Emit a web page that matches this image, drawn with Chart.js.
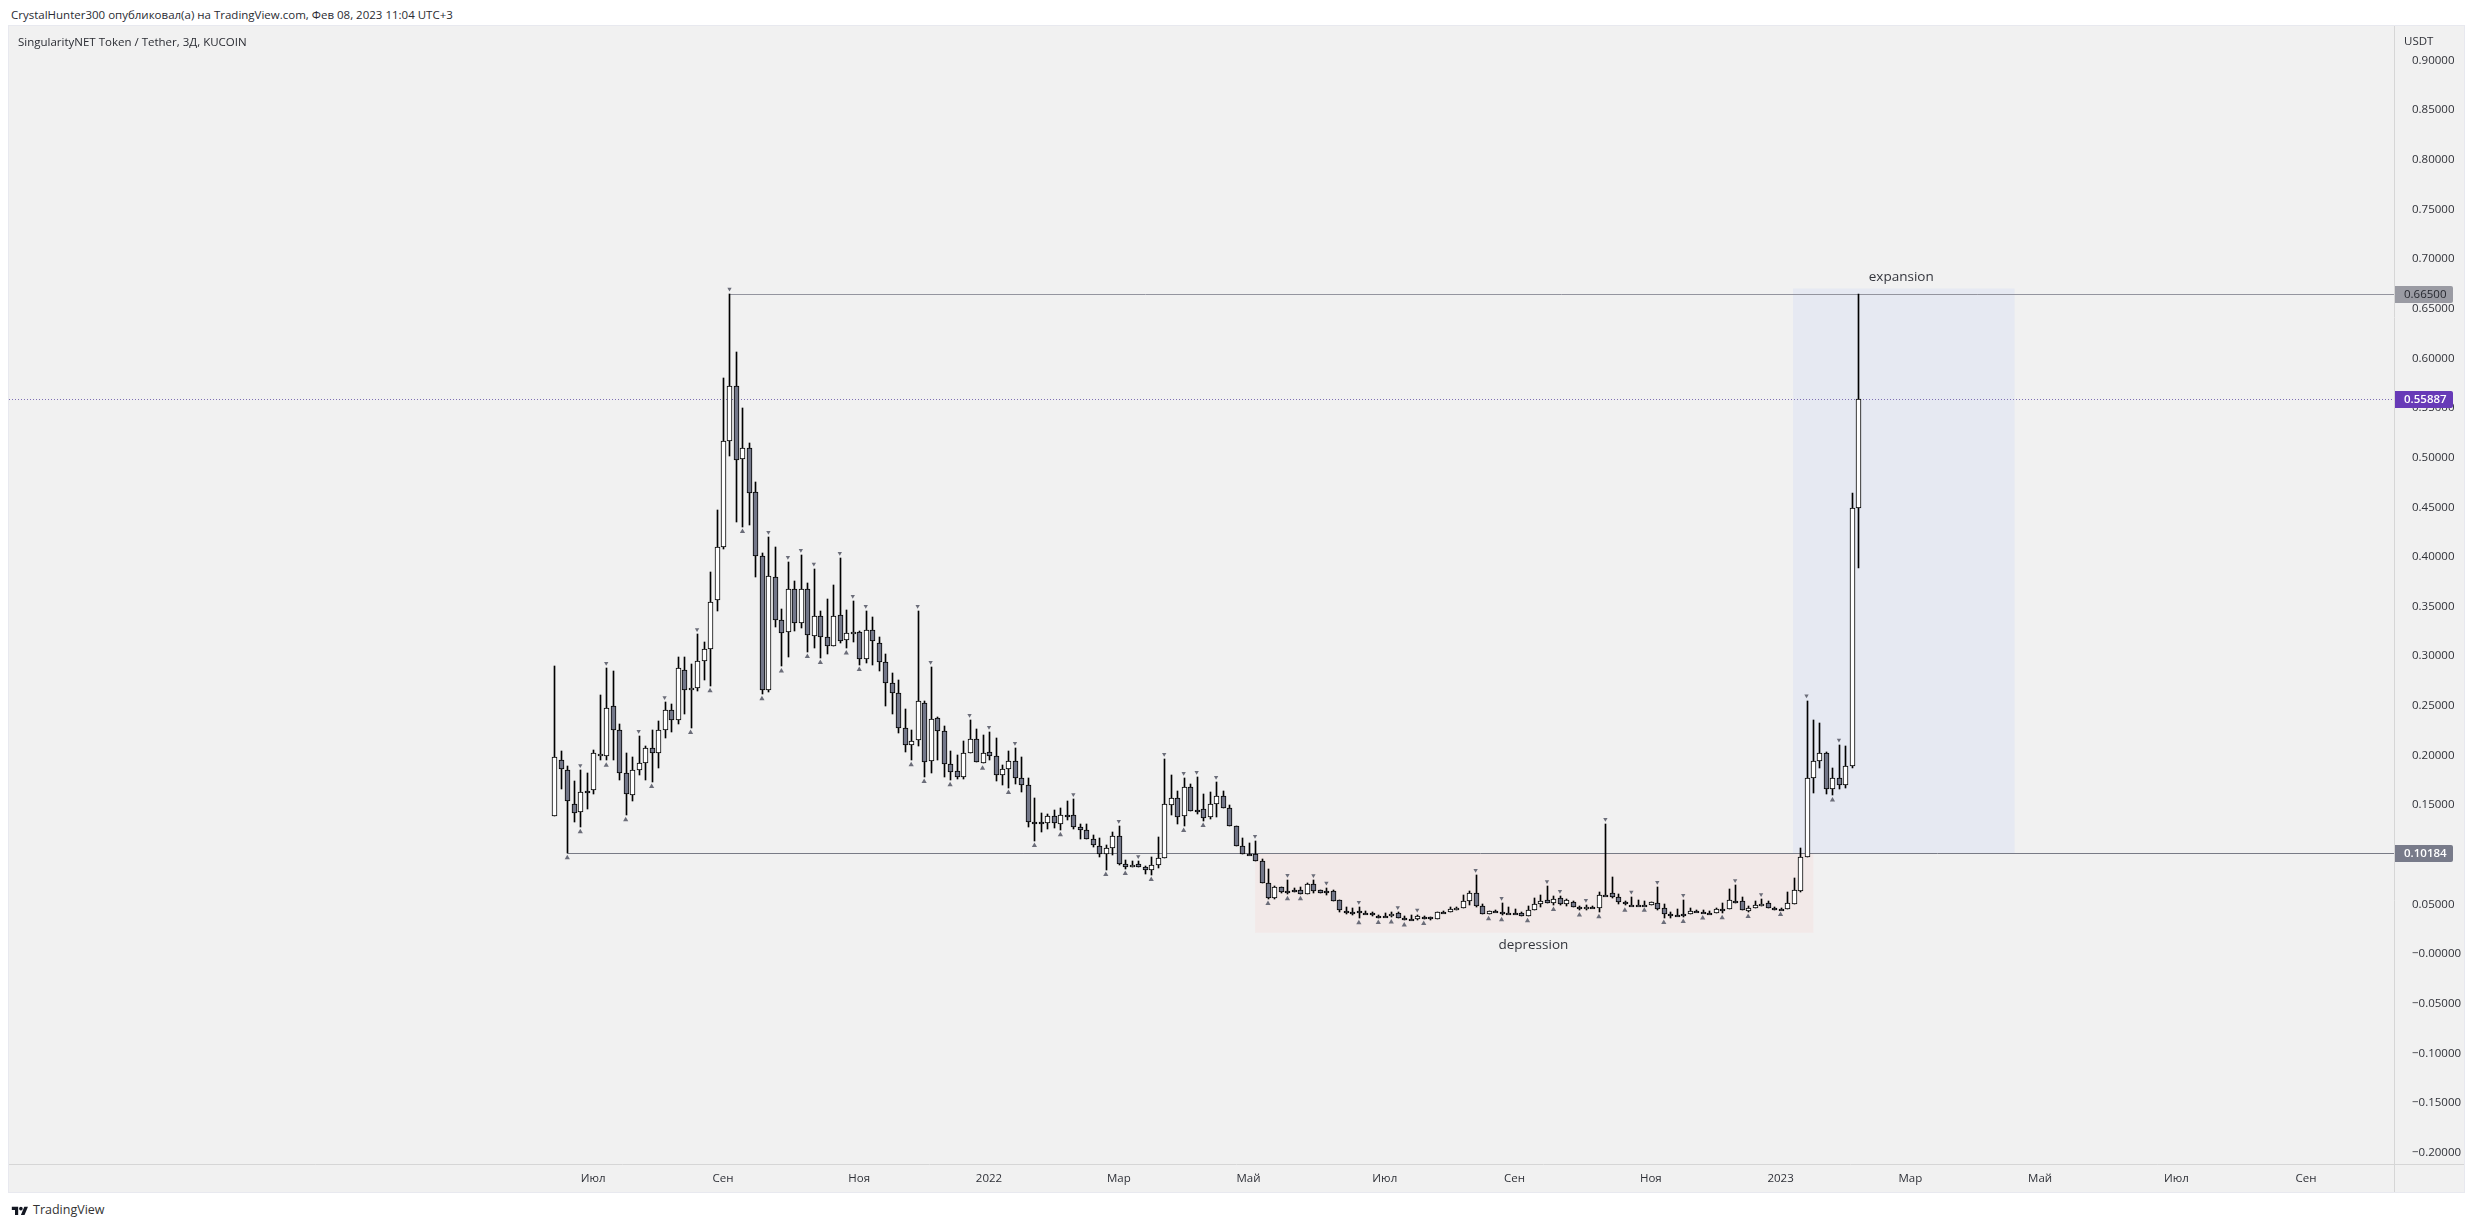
<!DOCTYPE html>
<html>
<head>
<meta charset="utf-8">
<title>SingularityNET Token / Tether</title>
<script src="https://cdn.jsdelivr.net/npm/chart.js@4/dist/chart.umd.js"></script>
<style>
    html, body { margin: 0; padding: 0; background: #fff; overflow: hidden; }
    body { width: 2474px; height: 1227px; position: relative; font-family: "Open Sans", sans-serif; color: #2a2c33; }
    #pane { position: absolute; left: 8px; top: 25px; width: 2455px; height: 1166px; border: 1px solid #e8e9ef; background: #f1f1f1; }
    canvas { display: block; }
    .caption { position: absolute; white-space: nowrap; font-size: 11.5px; line-height: 14px; }
    #published { left: 11px; top: 8px; }
    #symbol { left: 18px; top: 35px; }
    #brand { left: 33px; top: 1203px; font-size: 12.5px; color: #333; }
    #usdt { left: 2404px; top: 34px; color: #2f3138; }
    #logo { position: absolute; left: 10px; top: 1205px; width: 20px; height: 10px; }
</style>
</head>
<body>
<div class="caption" id="published">CrystalHunter300 опубликовал(а) на TradingView.com, Фев 08, 2023 11:04 UTC+3</div>
<div id="pane"><canvas id="chart" width="2455" height="1166"></canvas></div>
<div class="caption" id="symbol">SingularityNET Token / Tether, 3Д, KUCOIN</div>
<div class="caption" id="usdt">USDT</div>
<svg id="logo" viewBox="0 0 36 22"><path fill="#131722" d="M14 22H7V11H0V4h14v18zM28 22h-8l7.5-18h8L28 22z"/><circle fill="#131722" cx="20" cy="8" r="4"/></svg>
<div class="caption" id="brand">TradingView</div>
<script>
// 3D candles
const opens = [
    .139, .195, .185, .151, .143, .164, .165, .2005, .199, .2495,
    .226, .182, .160, .185, .192, .208, .203, .2254, .2455, .2354,
    .286, .2656, .2677, .295, .307, .357, .4097, .5165, .572, .4984,
    .5094, .465, .4006, .2656, .3795, .336, .324, .3674, .333, .3674,
    .320, .340, .319, .310, .342, .316, .322, .324, .297, .326,
    .313, .294, .2727, .2626, .2274, .2102, .2153, .2525, .194, .2374,
    .2243, .191, .184, .1787, .202, .2163, .192, .2032, .199, .180,
    .186, .194, .177, .170, .1327, .1325, .1316, .1387, .1306, .1397,
    .1397, .1283, .1246, .1155, .1085, .1004, .1064, .1185, .0903, .0873,
    .0903, .0873, .0843, .0893, .0964, .1498, .1568, .1387, .1679, .145,
    .1457, .1377, .1508, .1588, .1467, .1286, .1085, .1004, .1004, .0934,
    .0712, .0567, .0678, .0632, .0641, .0642, .0608, .0702, .0642, .0632,
    .0632, .054, .0438, .0428, .043, .0415, .041, .0385, .0385, .0383,
    .041, .0365, .0355, .035, .0376, .037, .035, .0428, .0426, .044,
    .0467, .053, .0611, .048, .0406, .0438, .0425, .0418, .0418, .041,
    .0386, .0446, .0507, .054, .0517, .056, .05, .0527, .0473, .045,
    .0469, .046, .0596, .0611, .0571, .0521, .0496, .0496, .0496, .049,
    .0517, .046, .0406, .0395, .0405, .0406, .0438, .0425, .0415, .0416,
    .0455, .0456, .0539, .053, .0436, .046, .0487, .051, .0467, .0458,
    .0456, .0507, .0638, .0974, .1771, .1944, .2022, .166, .1771, .1701,
    .1891, .4488
];
const highs = [
    .290, .2045, .189, .174, .185, .182, .206, .261, .288, .285,
    .232, .2025, .198, .2196, .2095, .2257, .2344, .2535, .252, .299,
    .299, .292, .322, .314, .3845, .447, .580, .665, .606, .550,
    .5148, .4755, .404, .420, .410, .348, .395, .3755, .402, .3734,
    .388, .346, .358, .3717, .399, .3466, .3556, .325, .3455, .3395,
    .319, .302, .2828, .2757, .2468, .2253, .3455, .2545, .2891, .2384,
    .2293, .2045, .2005, .2146, .2357, .2263, .2206, .2236, .2176, .1904,
    .2045, .2075, .1985, .1773, .157, .1417, .141, .145, .1467, .154,
    .156, .1306, .1306, .1195, .1169, .1095, .1226, .129, .0944, .0934,
    .0934, .0883, .0974, .1175, .1964, .180, .1639, .1773, .171, .1783,
    .1608, .1632, .1733, .1639, .1498, .1286, .1169, .1118, .1138, .0954,
    .0856, .0688, .0678, .0745, .0662, .0678, .0712, .0742, .0648, .0668,
    .0642, .054, .047, .0463, .0473, .0436, .042, .0393, .041, .0426,
    .042, .0386, .039, .0396, .038, .0376, .0426, .0436, .0477, .0473,
    .0591, .0632, .0796, .0504, .0436, .0446, .0514, .0473, .045, .0426,
    .048, .0564, .0591, .0682, .058, .0584, .0554, .0537, .048, .0494,
    .0484, .0622, .131, .0776, .0604, .053, .0577, .054, .053, .0524,
    .0675, .05, .0423, .045, .0544, .046, .0446, .044, .043, .0467,
    .051, .0655, .0692, .0571, .0487, .0534, .0551, .053, .0477, .0467,
    .0625, .0763, .1068, .2553, .2359, .233, .2039, .187, .2108, .2096,
    .4644, .665
];
const lows = [
    .139, .1666, .10184, .133, .128, .146, .1615, .195, .195, .195,
    .1756, .140, .1545, .180, .175, .1736, .1877, .218, .224, .232,
    .242, .228, .265, .276, .270, .346, .4077, .502, .4355, .4305,
    .432, .380, .262, .264, .3298, .290, .2995, .3257, .3287, .3045,
    .3086, .2985, .3025, .310, .313, .308, .3146, .2915, .2935, .2915,
    .2855, .250, .242, .2223, .2038, .1954, .2099, .1787, .1827, .1958,
    .1787, .1753, .1766, .1766, .202, .193, .192, .1958, .1746, .1703,
    .1675, .1716, .1635, .128, .114, .1233, .1263, .127, .125, .135,
    .1263, .1158, .1155, .1075, .098, .085, .0997, .0893, .086, .0873,
    .0873, .081, .080, .0863, .0964, .1403, .1313, .1293, .1437, .1407,
    .1343, .1357, .1383, .1467, .1293, .1085, .1004, .0998, .0934, .0712,
    .0557, .0557, .0615, .0604, .0625, .0604, .0608, .0618, .0615, .0594,
    .0537, .042, .0406, .0396, .0363, .0403, .0383, .0366, .0373, .037,
    .0363, .034, .0346, .0346, .0356, .0346, .035, .0416, .042, .044,
    .0467, .0497, .0477, .0403, .0403, .0423, .0393, .0414, .0406, .0386,
    .0383, .0446, .0477, .0514, .0497, .0497, .0487, .047, .044, .0446,
    .046, .0423, .0591, .056, .0507, .049, .049, .049, .049, .049,
    .0446, .0366, .0366, .0386, .0376, .04, .0423, .041, .0406, .0416,
    .0413, .0456, .0517, .044, .0426, .046, .0487, .046, .0446, .0446,
    .0456, .0507, .0628, .0974, .1619, .187, .1607, .1599, .166, .1677,
    .1878, .3893
];
const closes = [
    .198, .186, .154, .142, .163, .163, .202, .2015, .2475, .226,
    .182, .161, .185, .192, .208, .203, .2254, .2455, .2354, .288,
    .2656, .2677, .295, .307, .355, .4097, .5165, .572, .4973, .5094,
    .464, .4006, .2656, .3805, .336, .323, .368, .333, .3674, .321,
    .340, .319, .310, .341, .315, .323, .324, .297, .326, .315,
    .294, .2727, .2626, .2274, .2102, .2142, .2545, .193, .2364, .2243,
    .191, .1837, .1787, .202, .2163, .193, .202, .199, .180, .186,
    .194, .177, .170, .1327, .1322, .1315, .1387, .1316, .1397, .1392,
    .1283, .1246, .1155, .1095, .1004, .1064, .1185, .0903, .0873, .0893,
    .0873, .0843, .0893, .0964, .1508, .1568, .1377, .1679, .1437, .1445,
    .1373, .1508, .1588, .1467, .1293, .1085, .1004, .0998, .0934, .0712,
    .0567, .0678, .0628, .0628, .0635, .0608, .0702, .0638, .0618, .0625,
    .0537, .044, .0434, .0424, .041, .0411, .039, .0381, .0381, .0406,
    .0366, .0361, .0351, .038, .036, .035, .042, .0424, .045, .0467,
    .053, .0611, .048, .0406, .0436, .0434, .0421, .0414, .0414, .0386,
    .044, .0507, .0537, .0517, .0557, .05, .054, .047, .045, .0473,
    .0465, .0591, .0592, .0571, .0521, .05, .0492, .0492, .0492, .0521,
    .0456, .0406, .0386, .0391, .0401, .043, .0434, .0421, .0411, .045,
    .0451, .054, .0535, .044, .046, .049, .0507, .0467, .045, .0454,
    .051, .0642, .0974, .1771, .1944, .2022, .166, .1771, .1701, .1891,
    .4488, .55887
];

// candle numbers that carry a fractal mark
const fractalHighs = [4, 8, 13, 17, 22, 27, 33, 36, 38, 40, 44, 46, 48, 56, 58, 64, 67, 71, 80, 87, 90, 94, 97, 99, 102, 108, 113, 117, 119, 124, 130, 133, 142, 146, 153, 155, 159, 162, 166, 170, 174, 182, 186, 193, 198];
const fractalLows = [2, 4, 8, 11, 15, 21, 24, 29, 32, 35, 39, 41, 45, 47, 55, 57, 61, 66, 70, 74, 78, 85, 88, 92, 97, 100, 110, 113, 115, 124, 127, 129, 131, 134, 144, 146, 150, 154, 158, 161, 165, 168, 171, 174, 177, 180, 184, 189, 197];

const viewX = [-84.05, 283.55];
const viewY = [-0.2115, 0.9348];
const priceTicks = [-0.2, -0.15, -0.1, -0.05, 0, 0.05, 0.15, 0.2, 0.25, 0.3, 0.35, 0.4, 0.45, 0.5, 0.55, 0.6, 0.65, 0.7, 0.75, 0.8, 0.85, 0.9];
const timeTicks = [6, 26, 47, 67, 87, 107, 128, 148, 169, 189, 209, 229, 250, 270];
const timeLabels = ["Июл", "Сен", "Ноя", "2022", "Мар", "Май", "Июл", "Сен", "Ноя", "2023", "Мар", "Май", "Июл", "Сен"];

const topLevel = 0.665;
const bottomLevel = 0.10184;
const lastPrice = 0.55887;
const depressionBox = { from: 108, to: 194.1, top: bottomLevel, bottom: 0.0215 };
const expansionBox = { from: 190.9, to: 225.1, top: 0.6703, bottom: bottomLevel };

const noteTexts = ["expansion", "depression"];
const noteBars = [207.6, 150.9];
const notePrices = [0.6815, 0.0094];

const tagPrices = [topLevel, lastPrice, bottomLevel];
const tagFills = ["#9a9ba3", "#673ab7", "#787b8a"];
const tagInks = ["#26282f", "#ffffff", "#ffffff"];

const UI_FONT = '"Open Sans", sans-serif';
const INK = "#2f3138";
const AXIS_LINE = "#d6d6d6";
const MARK_GAP = 0.0048;

const barNumbers = opens.map((_, i) => i);

function formatPrice(value) {
    const sign = value < 0.000001 ? "−" : "";
    return sign + Math.abs(value).toFixed(5);
}

// bars and levels land on whole pixels, like the original candles do
const snapToPixels = {
    id: "snapToPixels",
    afterDatasetsUpdate(chart) {
        chart.data.datasets.forEach((dataset, index) => {
            const elements = chart.getDatasetMeta(index).data;
            if (dataset.type === "bar") {
                elements.forEach(bar => {
                    bar.x = Math.round(bar.x) + 0.5;
                    bar.y = Math.round(bar.y);
                    bar.base = Math.round(bar.base);
                    if (dataset.isBody && bar.base - bar.y < 2) bar.base = bar.y + 2;
                });
            } else if (dataset.snapLine) {
                elements.forEach(point => { point.y = Math.round(point.y) + 0.5; });
            }
        });
    }
};

const overlays = {
    id: "overlays",
    afterDraw(chart) {
        const { ctx, scales: { x, y }, chartArea, width, height } = chart;
        ctx.save();

        // axis separators run through the corner of the pane
        ctx.strokeStyle = AXIS_LINE;
        ctx.lineWidth = 1;
        ctx.beginPath();
        ctx.moveTo(chartArea.right + 0.5, 0);
        ctx.lineTo(chartArea.right + 0.5, height);
        ctx.moveTo(0, chartArea.bottom + 0.5);
        ctx.lineTo(width, chartArea.bottom + 0.5);
        ctx.stroke();

        ctx.textBaseline = "middle";
        ctx.textAlign = "center";
        ctx.font = `13.5px ${UI_FONT}`;
        ctx.fillStyle = "#33353c";
        noteTexts.forEach((text, i) => {
            ctx.fillText(text, x.getPixelForValue(noteBars[i]), y.getPixelForValue(notePrices[i]));
        });

        ctx.textAlign = "left";
        tagPrices.forEach((price, i) => {
            const mid = Math.round(y.getPixelForValue(price));
            ctx.fillStyle = tagFills[i];
            ctx.beginPath();
            ctx.roundRect(chartArea.right + 1, mid - 8, 58, 17, [0, 2, 2, 0]);
            ctx.fill();
            ctx.fillStyle = tagInks[i];
            ctx.font = (i === 0 ? "" : "600 ") + `11.5px ${UI_FONT}`;
            ctx.fillText(price.toFixed(5), chartArea.right + 10, mid + 1);
        });
        ctx.restore();
    }
};

const levelLine = (x0, price, color, extra) => Object.assign({
    type: "line",
    data: [{ x: x0, y: price }, { x: viewX[1], y: price }],
    borderColor: color,
    borderWidth: 1,
    pointRadius: 0,
    fill: false,
    snapLine: true,
    order: 4
}, extra);

const shadedBox = (box, color) => ({
    type: "line",
    data: [{ x: box.from, y: box.top }, { x: box.to, y: box.top }],
    borderWidth: 0,
    pointRadius: 0,
    backgroundColor: color,
    fill: { value: box.bottom },
    order: 6
});

const fractalMarks = (numbers, price, rotation, radius) => ({
    type: "line",
    showLine: false,
    data: numbers.map(i => ({ x: i, y: price(i) })),
    pointStyle: "triangle",
    pointRadius: radius,
    pointRotation: rotation,
    pointBorderWidth: 0,
    pointBackgroundColor: "#6b6d79",
    order: 1
});

new Chart(document.getElementById("chart"), {
    type: "bar",
    plugins: [snapToPixels, overlays],
    data: {
        datasets: [
            shadedBox(depressionBox, "#f2e9e8"),
            shadedBox(expansionBox, "#e6e9f2"),
            levelLine(27, topLevel, "#94959f"),
            levelLine(2, bottomLevel, "#787b86"),
            levelLine(viewX[0], lastPrice, "#7e6fb4", { borderDash: [1, 2] }),
            {
                type: "bar",
                grouped: false,
                data: barNumbers.map(i => ({ x: i, y: [lows[i], highs[i]] })),
                backgroundColor: "#000000",
                barThickness: 1,
                order: 3
            },
            {
                type: "bar",
                grouped: false,
                isBody: true,
                data: barNumbers.map(i => ({ x: i, y: [Math.min(opens[i], closes[i]), Math.max(opens[i], closes[i])] })),
                backgroundColor: barNumbers.map(i => closes[i] >= opens[i] ? "#ffffff" : "#737789"),
                borderColor: "#000000",
                borderWidth: 1,
                borderSkipped: false,
                barThickness: 5,
                order: 2
            },
            fractalMarks(fractalHighs, i => highs[i] + MARK_GAP, 180, 2.5),
            fractalMarks(fractalLows, i => lows[i] - MARK_GAP, 0, 3)
        ]
    },
    options: {
        responsive: false,
        devicePixelRatio: 1,
        animation: false,
        events: [],
        layout: { padding: 0, autoPadding: false },
        plugins: { legend: { display: false }, tooltip: { enabled: false }, title: { display: false } },
        scales: {
            x: {
                type: "linear",
                min: viewX[0],
                max: viewX[1],
                offset: false,
                grid: { display: false },
                border: { display: false },
                afterFit: scale => {
                    scale.height = 28;
                    scale.paddingLeft = 0;
                    scale.paddingRight = 0;
                },
                afterBuildTicks: scale => { scale.ticks = timeTicks.map(value => ({ value })); },
                ticks: {
                    autoSkip: false,
                    maxRotation: 0,
                    padding: 0,
                    color: INK,
                    font: { family: UI_FONT, size: 11.5 },
                    callback: (value, index) => timeLabels[index]
                }
            },
            y: {
                type: "linear",
                position: "right",
                min: viewY[0],
                max: viewY[1],
                grid: { display: false },
                border: { display: false },
                afterFit: scale => {
                    scale.width = 70;
                    scale.paddingTop = 0;
                    scale.paddingBottom = 0;
                },
                afterBuildTicks: scale => { scale.ticks = priceTicks.map(value => ({ value })); },
                ticks: {
                    autoSkip: false,
                    padding: 10,
                    color: INK,
                    font: { family: UI_FONT, size: 11.5 },
                    callback: value => formatPrice(value)
                }
            }
        }
    }
});
</script>
</body>
</html>
